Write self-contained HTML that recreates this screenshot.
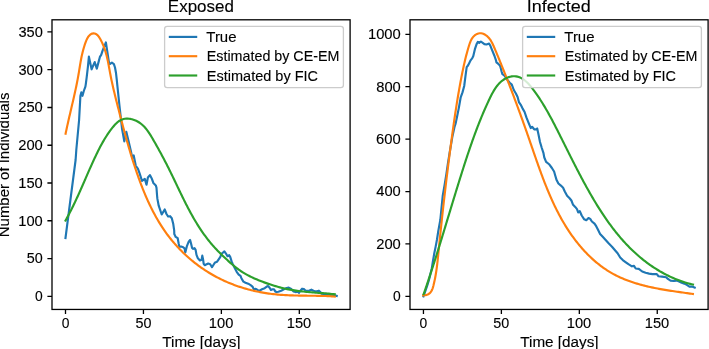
<!DOCTYPE html>
<html><head><meta charset="utf-8"><style>
html,body{margin:0;padding:0;background:#fff;}
svg{display:block;font-family:"Liberation Sans", sans-serif;}
svg{will-change:transform;}
text{stroke:#000;stroke-width:0.12px;}
</style></head><body>
<svg width="709" height="349" viewBox="0 0 709 349">
<rect width="709" height="349" fill="#fff"/>
<clipPath id="c52"><rect x="52.00" y="19.80" width="298.10" height="289.65"/></clipPath>
<g clip-path="url(#c52)" fill="none" stroke-width="2.15" stroke-linejoin="round" stroke-linecap="square">
<path stroke="#1f77b4" d="M65.50 238.00L70.40 200.00L75.60 160.00L76.30 150.00L79.10 120.00L80.40 96.00L81.30 92.40L82.50 95.80L83.80 91.00L85.40 86.70L85.80 84.10L86.70 77.20L87.90 66.90L88.90 56.60L91.60 69.30L94.70 62.10L96.80 68.60L98.80 61.10L99.90 56.90L101.20 54.90L102.60 50.70L105.90 42.40L107.80 54.90L108.80 61.70L109.80 64.10L111.90 62.70L113.90 64.10L115.00 67.50L116.00 73.00L116.70 79.20L117.40 86.00L119.50 106.00L122.00 128.50L124.30 141.40L126.30 131.80L128.70 141.70L130.80 150.70L132.30 158.00L133.70 155.50L135.80 165.80L137.90 168.60L139.60 173.40L142.00 180.90L144.80 178.90L146.50 184.70L147.90 177.50L149.90 175.10L151.60 178.20L153.40 183.00L155.80 185.40L156.50 187.80L157.10 196.00L157.40 198.90L158.70 205.70L161.70 214.50L164.70 209.50L166.50 214.00L168.10 216.50L170.10 216.20L171.80 218.20L173.20 223.70L174.20 230.60L174.30 234.10L175.70 236.90L177.70 238.20L178.70 243.70L179.40 246.80L181.20 246.50L183.20 247.20L184.60 248.60L185.30 252.50L187.00 245.80L188.70 241.70L190.10 240.00L191.10 243.70L192.10 247.90L193.20 248.90L194.60 248.20L195.60 249.90L196.50 254.90L197.90 258.30L199.90 260.40L201.60 259.70L202.30 255.60L203.00 259.00L203.70 263.80L204.70 265.20L206.10 264.50L208.20 263.50L210.20 264.20L212.00 267.20L213.70 264.50L215.10 262.40L217.10 261.70L218.50 259.70L220.20 257.20L221.60 253.80L224.40 251.40L226.10 253.80L227.50 256.20L229.20 255.20L230.20 256.90L231.60 261.40L232.60 263.60L234.60 267.70L236.70 271.80L238.70 274.60L240.50 275.90L241.40 278.20L243.40 281.60L245.50 282.70L248.20 283.70L251.00 285.40L252.70 286.80L253.70 289.20L255.80 288.80L257.90 290.20L259.60 290.60L262.00 289.20L264.70 288.20L267.10 286.40L268.20 286.10L269.60 287.80L270.90 289.90L272.60 289.20L274.00 289.20L275.40 291.60L276.80 292.00L278.40 291.70L281.20 290.70L283.90 289.30L286.70 288.00L288.70 287.60L291.20 289.00L293.60 291.40L295.60 292.10L297.70 291.70L299.10 292.80L300.40 290.70L302.10 288.70L303.90 289.00L305.60 290.70L307.30 290.70L309.40 290.50L311.40 289.70L313.50 290.70L314.50 291.00L316.90 291.30L318.90 290.70L320.30 292.00L321.70 293.70L327.20 294.40L332.70 295.10L336.70 295.90"/>
<path stroke="#ff7f0e" d="M65.59 133.77L65.88 132.33L66.18 130.90L66.49 129.45L66.80 128.01L67.11 126.56L67.43 125.11L67.76 123.66L68.08 122.20L68.41 120.75L68.75 119.29L69.08 117.83L69.42 116.36L69.76 114.90L70.11 113.43L70.45 111.96L70.79 110.49L71.14 109.02L71.48 107.55L71.83 106.08L72.17 104.61L72.51 103.13L72.85 101.66L73.19 100.18L73.53 98.71L73.87 97.23L74.20 95.76L74.53 94.29L74.86 92.81L75.18 91.34L75.50 89.87L75.81 88.39L76.12 86.92L76.43 85.45L76.73 83.99L77.02 82.52L77.31 81.06L77.59 79.59L77.86 78.13L78.13 76.67L78.38 75.21L78.64 73.76L78.88 72.31L79.12 70.86L79.35 69.41L79.59 67.96L79.82 66.51L80.06 65.06L80.30 63.61L80.55 62.16L80.81 60.71L81.08 59.25L81.36 57.79L81.66 56.33L81.98 54.87L82.31 53.40L82.67 51.92L83.05 50.44L83.46 48.96L83.90 47.46L84.36 45.97L84.86 44.46L85.39 42.95L85.96 41.42L86.57 39.91L87.25 38.46L88.02 37.11L88.90 35.90L89.90 34.88L91.04 34.09L92.27 33.57L93.51 33.35L94.70 33.47L95.82 33.90L96.86 34.61L97.84 35.55L98.75 36.67L99.60 37.93L100.40 39.29L101.15 40.70L101.85 42.12L102.50 43.54L103.12 44.97L103.69 46.41L104.23 47.84L104.73 49.28L105.21 50.73L105.65 52.17L106.06 53.62L106.45 55.07L106.82 56.52L107.16 57.98L107.49 59.44L107.80 60.89L108.10 62.35L108.39 63.81L108.67 65.28L108.94 66.74L109.21 68.20L109.47 69.67L109.74 71.13L110.01 72.60L110.29 74.06L110.57 75.53L110.86 76.99L111.16 78.45L111.47 79.92L111.78 81.38L112.09 82.84L112.41 84.31L112.74 85.77L113.07 87.23L113.41 88.69L113.75 90.15L114.10 91.61L114.45 93.07L114.80 94.53L115.16 95.99L115.52 97.45L115.88 98.91L116.24 100.37L116.61 101.83L116.98 103.28L117.35 104.74L117.72 106.20L118.10 107.65L118.47 109.11L118.85 110.56L119.22 112.01L119.60 113.47L119.97 114.92L120.35 116.37L120.73 117.82L121.11 119.27L121.49 120.72L121.87 122.17L122.25 123.62L122.63 125.07L123.02 126.51L123.40 127.96L123.79 129.40L124.18 130.85L124.57 132.29L124.96 133.74L125.36 135.18L125.76 136.62L126.16 138.06L126.56 139.50L126.96 140.94L127.37 142.38L127.78 143.81L128.19 145.25L128.61 146.69L129.03 148.12L129.45 149.56L129.87 150.99L130.30 152.42L130.73 153.85L131.17 155.28L131.61 156.71L132.05 158.14L132.49 159.57L132.94 160.99L133.40 162.42L133.86 163.85L134.32 165.27L134.79 166.69L135.26 168.11L135.73 169.53L136.22 170.95L136.70 172.37L137.19 173.79L137.69 175.21L138.19 176.62L138.69 178.04L139.21 179.45L139.72 180.86L140.25 182.27L140.78 183.68L141.31 185.08L141.85 186.48L142.40 187.88L142.96 189.28L143.52 190.68L144.08 192.07L144.66 193.46L145.24 194.84L145.83 196.22L146.43 197.60L147.04 198.97L147.65 200.34L148.27 201.71L148.90 203.07L149.54 204.43L150.19 205.78L150.85 207.13L151.51 208.47L152.18 209.81L152.87 211.14L153.56 212.47L154.26 213.79L154.97 215.11L155.70 216.42L156.43 217.72L157.17 219.02L157.92 220.31L158.69 221.59L159.46 222.87L160.25 224.14L161.04 225.41L161.85 226.66L162.67 227.91L163.50 229.15L164.34 230.39L165.20 231.61L166.06 232.83L166.94 234.04L167.83 235.24L168.73 236.43L169.65 237.61L170.58 238.79L171.52 239.95L172.47 241.11L173.44 242.26L174.42 243.39L175.40 244.52L176.40 245.64L177.42 246.75L178.44 247.85L179.48 248.93L180.52 250.01L181.58 251.08L182.65 252.14L183.73 253.18L184.81 254.22L185.91 255.25L187.02 256.26L188.14 257.26L189.27 258.25L190.41 259.23L191.56 260.20L192.72 261.16L193.89 262.11L195.07 263.04L196.26 263.96L197.46 264.87L198.66 265.77L199.88 266.65L201.10 267.52L202.33 268.38L203.57 269.23L204.82 270.06L206.08 270.88L207.34 271.69L208.62 272.48L209.90 273.26L211.19 274.03L212.48 274.78L213.78 275.52L215.09 276.24L216.41 276.95L217.74 277.65L219.07 278.33L220.40 278.99L221.75 279.65L223.10 280.29L224.46 280.91L225.82 281.52L227.19 282.12L228.56 282.70L229.94 283.27L231.33 283.83L232.72 284.37L234.12 284.90L235.52 285.41L236.93 285.91L238.34 286.40L239.76 286.87L241.18 287.33L242.60 287.78L244.03 288.21L245.47 288.63L246.91 289.04L248.35 289.43L249.80 289.81L251.25 290.18L252.70 290.53L254.16 290.87L255.62 291.20L257.08 291.52L258.55 291.82L260.02 292.10L261.49 292.38L262.96 292.64L264.44 292.89L265.92 293.13L267.40 293.35L268.89 293.57L270.37 293.76L271.86 293.95L273.35 294.12L274.84 294.29L276.33 294.43L277.82 294.57L279.32 294.70L280.81 294.81L282.31 294.92L283.81 295.01L285.31 295.10L286.81 295.18L288.31 295.25L289.81 295.31L291.31 295.37L292.81 295.42L294.32 295.46L295.82 295.50L297.32 295.54L298.83 295.57L300.33 295.60L301.84 295.62L303.34 295.64L304.84 295.66L306.35 295.68L307.85 295.70L309.35 295.71L310.85 295.73L312.36 295.75L313.86 295.77L315.36 295.79L316.86 295.82L318.36 295.84L319.85 295.88L321.35 295.91L322.85 295.95L324.34 296.00L325.83 296.05L327.33 296.10L328.82 296.17L330.31 296.24L331.79 296.32L333.28 296.41L334.76 296.51"/>
<path stroke="#2ca02c" d="M65.53 220.48L66.26 219.18L66.98 217.88L67.70 216.57L68.40 215.26L69.10 213.94L69.80 212.62L70.48 211.29L71.16 209.96L71.83 208.62L72.50 207.28L73.15 205.94L73.81 204.59L74.46 203.24L75.10 201.88L75.74 200.53L76.37 199.17L77.00 197.80L77.63 196.44L78.25 195.07L78.87 193.70L79.48 192.33L80.09 190.96L80.70 189.59L81.31 188.21L81.92 186.84L82.52 185.46L83.12 184.08L83.72 182.70L84.33 181.33L84.93 179.95L85.53 178.57L86.13 177.19L86.73 175.81L87.33 174.44L87.93 173.06L88.53 171.69L89.14 170.32L89.74 168.94L90.35 167.58L90.96 166.21L91.58 164.84L92.19 163.48L92.81 162.12L93.43 160.76L94.06 159.41L94.69 158.05L95.33 156.71L95.97 155.36L96.61 154.02L97.26 152.68L97.92 151.35L98.58 150.02L99.25 148.69L99.94 147.37L100.63 146.06L101.33 144.75L102.05 143.44L102.78 142.14L103.53 140.84L104.29 139.55L105.07 138.26L105.87 136.98L106.68 135.71L107.52 134.44L108.38 133.17L109.26 131.92L110.16 130.66L111.09 129.42L112.05 128.18L113.03 126.95L114.04 125.74L115.09 124.58L116.17 123.47L117.28 122.44L118.44 121.51L119.64 120.69L120.89 120.00L122.19 119.45L123.52 119.04L124.89 118.77L126.29 118.63L127.71 118.61L129.13 118.71L130.57 118.93L132.00 119.25L133.42 119.67L134.82 120.19L136.20 120.80L137.54 121.49L138.85 122.26L140.10 123.11L141.30 124.01L142.45 124.99L143.54 126.01L144.58 127.09L145.58 128.21L146.53 129.38L147.45 130.58L148.33 131.82L149.18 133.08L150.01 134.36L150.82 135.66L151.61 136.97L152.39 138.29L153.15 139.61L153.91 140.93L154.67 142.25L155.42 143.57L156.16 144.88L156.90 146.20L157.64 147.51L158.37 148.82L159.09 150.14L159.81 151.45L160.53 152.76L161.24 154.07L161.94 155.39L162.65 156.70L163.34 158.02L164.04 159.33L164.72 160.65L165.41 161.97L166.09 163.29L166.77 164.61L167.44 165.94L168.11 167.27L168.78 168.60L169.44 169.93L170.10 171.27L170.76 172.61L171.42 173.95L172.07 175.29L172.72 176.64L173.37 177.99L174.02 179.34L174.67 180.69L175.31 182.04L175.96 183.39L176.61 184.75L177.25 186.10L177.90 187.45L178.55 188.81L179.20 190.16L179.85 191.52L180.50 192.87L181.16 194.22L181.81 195.57L182.47 196.92L183.13 198.27L183.80 199.62L184.47 200.96L185.14 202.30L185.82 203.64L186.50 204.98L187.19 206.32L187.88 207.65L188.58 208.98L189.28 210.30L189.99 211.62L190.70 212.94L191.43 214.25L192.15 215.56L192.89 216.86L193.63 218.16L194.38 219.46L195.14 220.75L195.91 222.03L196.69 223.31L197.47 224.58L198.27 225.85L199.07 227.11L199.89 228.36L200.71 229.61L201.54 230.85L202.39 232.08L203.25 233.30L204.11 234.52L204.99 235.73L205.89 236.93L206.79 238.13L207.71 239.31L208.64 240.49L209.58 241.65L210.53 242.81L211.50 243.96L212.49 245.10L213.49 246.23L214.50 247.35L215.52 248.46L216.55 249.56L217.60 250.65L218.65 251.73L219.71 252.81L220.78 253.87L221.86 254.93L222.94 255.98L224.03 257.02L225.13 258.05L226.23 259.07L227.33 260.08L228.44 261.09L229.55 262.09L230.66 263.08L231.78 264.05L232.90 265.02L234.03 265.97L235.18 266.90L236.34 267.82L237.51 268.71L238.71 269.59L239.92 270.44L241.15 271.27L242.40 272.07L243.67 272.85L244.96 273.62L246.26 274.36L247.58 275.08L248.91 275.78L250.25 276.46L251.60 277.12L252.97 277.77L254.35 278.40L255.73 279.01L257.12 279.61L258.52 280.19L259.93 280.75L261.34 281.30L262.76 281.84L264.18 282.37L265.60 282.88L267.02 283.38L268.44 283.87L269.86 284.35L271.29 284.82L272.71 285.28L274.14 285.72L275.56 286.15L276.99 286.57L278.42 286.98L279.85 287.37L281.29 287.74L282.73 288.11L284.18 288.45L285.62 288.78L287.08 289.09L288.54 289.39L290.00 289.67L291.47 289.93L292.94 290.18L294.42 290.41L295.90 290.63L297.39 290.84L298.88 291.03L300.37 291.21L301.87 291.38L303.37 291.54L304.87 291.70L306.37 291.84L307.87 291.98L309.37 292.11L310.88 292.24L312.38 292.37L313.89 292.49L315.39 292.60L316.90 292.72L318.40 292.83L319.90 292.95L321.40 293.06L322.90 293.18L324.39 293.30L325.88 293.43L327.37 293.55L328.86 293.69L330.34 293.83L331.81 293.97L333.29 294.13L334.75 294.29"/>
</g>
<rect x="52.00" y="19.80" width="298.10" height="289.65" fill="none" stroke="#000" stroke-width="1.30"/>
<path d="M65.50 309.45V314.05M143.44 309.45V314.05M221.37 309.45V314.05M299.31 309.45V314.05M52.00 296.30H47.40M52.00 258.54H47.40M52.00 220.77H47.40M52.00 183.00H47.40M52.00 145.24H47.40M52.00 107.48H47.40M52.00 69.71H47.40M52.00 31.94H47.40" stroke="#000" stroke-width="1.30" fill="none"/>
<text x="61.65" y="328.40" font-size="14.00" textLength="7.71" lengthAdjust="spacingAndGlyphs">0</text>
<text x="135.44" y="328.40" font-size="14.00" textLength="15.98" lengthAdjust="spacingAndGlyphs">50</text>
<text x="208.86" y="328.40" font-size="14.00" textLength="24.47" lengthAdjust="spacingAndGlyphs">100</text>
<text x="286.80" y="328.40" font-size="14.00" textLength="24.47" lengthAdjust="spacingAndGlyphs">150</text>
<text x="35.03" y="301.10" font-size="14.00" textLength="7.71" lengthAdjust="spacingAndGlyphs">0</text>
<text x="26.78" y="263.34" font-size="14.00" textLength="15.98" lengthAdjust="spacingAndGlyphs">50</text>
<text x="18.30" y="225.57" font-size="14.00" textLength="24.47" lengthAdjust="spacingAndGlyphs">100</text>
<text x="18.30" y="187.81" font-size="14.00" textLength="24.47" lengthAdjust="spacingAndGlyphs">150</text>
<text x="18.20" y="150.04" font-size="14.00" textLength="24.58" lengthAdjust="spacingAndGlyphs">200</text>
<text x="18.20" y="112.28" font-size="14.00" textLength="24.58" lengthAdjust="spacingAndGlyphs">250</text>
<text x="18.42" y="74.51" font-size="14.00" textLength="24.35" lengthAdjust="spacingAndGlyphs">300</text>
<text x="18.42" y="36.74" font-size="14.00" textLength="24.35" lengthAdjust="spacingAndGlyphs">350</text>
<text x="162.22" y="346.50" font-size="14.00" textLength="78.40" lengthAdjust="spacingAndGlyphs">Time [days]</text>
<text x="167.88" y="11.95" font-size="16.70" textLength="66.05" lengthAdjust="spacingAndGlyphs">Exposed</text>
<rect x="164.60" y="26.30" width="178.80" height="61.30" rx="2.6" fill="#fff" fill-opacity="0.8" stroke="#ccc" stroke-width="1.30"/>
<path d="M169.86 36.90H196.16" stroke="#1f77b4" stroke-width="2.15" stroke-linecap="square"/>
<text x="206.33" y="42.10" font-size="14.00" textLength="30.18" lengthAdjust="spacingAndGlyphs">True</text>
<path d="M169.86 56.20H196.16" stroke="#ff7f0e" stroke-width="2.15" stroke-linecap="square"/>
<text x="206.82" y="61.40" font-size="14.00" textLength="132.58" lengthAdjust="spacingAndGlyphs">Estimated by CE-EM</text>
<path d="M169.86 75.50H196.16" stroke="#2ca02c" stroke-width="2.15" stroke-linecap="square"/>
<text x="206.80" y="80.70" font-size="14.00" textLength="111.28" lengthAdjust="spacingAndGlyphs">Estimated by FIC</text>
<clipPath id="c410"><rect x="410.00" y="19.80" width="298.10" height="289.65"/></clipPath>
<g clip-path="url(#c410)" fill="none" stroke-width="2.15" stroke-linejoin="round" stroke-linecap="square">
<path stroke="#1f77b4" d="M423.45 296.30L425.50 290.60L427.20 285.60L428.80 280.50L430.30 274.50L431.80 268.20L432.80 262.00L434.20 253.80L435.60 246.90L436.90 240.00L438.30 231.00L440.30 220.00L441.50 208.00L442.70 196.00L444.60 185.00L446.40 174.00L448.00 163.00L450.10 150.00L452.30 137.00L454.50 127.00L455.50 124.00L457.20 116.00L458.80 108.10L460.70 97.30L462.50 92.40L464.20 86.00L465.50 75.80L466.70 67.20L468.00 65.50L469.30 62.90L470.60 60.30L472.30 58.10L473.30 56.00L474.90 49.20L476.60 44.10L477.90 41.90L479.20 42.80L480.90 41.50L482.70 42.80L484.40 44.10L486.50 44.50L489.10 43.60L490.40 45.80L492.10 50.10L494.50 56.00L496.00 60.30L496.40 62.40L498.10 63.70L499.90 65.50L500.70 68.00L501.60 71.50L502.40 74.10L504.20 75.30L505.90 77.50L507.60 80.10L509.70 82.70L511.80 84.60L513.80 90.00L515.90 93.50L517.60 96.90L518.90 102.10L520.60 104.60L522.40 108.10L524.60 112.00L526.50 117.70L528.60 122.90L530.80 128.10L532.10 126.80L534.20 129.30L536.40 129.30L537.20 128.50L538.40 134.10L540.00 142.00L541.80 148.00L543.50 153.20L544.30 157.50L546.10 161.80L548.20 163.50L549.60 164.80L551.90 168.00L554.10 171.50L555.30 175.80L556.60 180.10L558.40 183.50L560.90 185.60L563.10 187.80L564.80 191.50L567.10 195.70L569.60 198.30L571.40 200.50L573.10 204.80L575.20 206.90L577.00 209.10L578.20 212.50L579.80 211.20L581.70 215.50L584.20 219.30L586.30 220.20L588.50 218.00L590.20 218.90L591.90 221.50L594.50 223.60L596.20 226.20L597.90 229.60L600.10 233.90L602.50 236.50L605.20 239.50L608.60 243.30L612.00 246.70L615.00 250.20L617.60 253.20L620.20 257.50L622.80 260.10L625.50 262.10L628.40 264.20L631.90 266.30L634.00 265.90L635.70 268.50L638.80 268.90L642.20 271.50L645.60 272.80L649.10 273.60L652.50 274.10L656.80 274.10L658.50 276.20L662.00 276.60L666.20 277.20L667.90 278.90L670.50 280.60L673.90 281.00L676.50 280.60L679.10 281.50L681.70 282.80L684.30 283.60L686.80 284.90L689.40 286.60L692.00 286.60L694.70 287.70"/>
<path stroke="#ff7f0e" d="M423.18 295.30L425.16 295.19L426.85 294.83L428.28 294.24L429.47 293.44L430.45 292.47L431.26 291.36L431.93 290.12L432.47 288.80L432.93 287.40L433.33 285.96L433.69 284.51L434.04 283.06L434.37 281.60L434.68 280.13L434.98 278.67L435.26 277.20L435.53 275.73L435.78 274.25L436.03 272.77L436.25 271.29L436.47 269.81L436.68 268.32L436.88 266.84L437.07 265.35L437.25 263.86L437.42 262.37L437.59 260.87L437.75 259.38L437.91 257.89L438.06 256.39L438.22 254.90L438.36 253.40L438.51 251.91L438.66 250.41L438.81 248.91L438.96 247.42L439.11 245.93L439.26 244.43L439.41 242.94L439.56 241.45L439.71 239.95L439.87 238.46L440.02 236.97L440.17 235.48L440.33 233.99L440.48 232.49L440.64 231.00L440.80 229.51L440.95 228.02L441.11 226.53L441.27 225.04L441.43 223.55L441.59 222.06L441.75 220.57L441.91 219.09L442.07 217.60L442.23 216.11L442.40 214.62L442.56 213.13L442.72 211.65L442.89 210.16L443.06 208.67L443.22 207.18L443.39 205.70L443.56 204.21L443.72 202.72L443.89 201.24L444.06 199.75L444.23 198.26L444.40 196.78L444.58 195.29L444.75 193.80L444.92 192.32L445.10 190.83L445.27 189.35L445.45 187.86L445.62 186.38L445.80 184.89L445.98 183.40L446.15 181.92L446.33 180.43L446.51 178.95L446.69 177.46L446.88 175.98L447.06 174.49L447.24 173.01L447.42 171.52L447.61 170.03L447.79 168.55L447.98 167.06L448.17 165.58L448.35 164.09L448.54 162.61L448.73 161.12L448.92 159.63L449.11 158.15L449.30 156.66L449.49 155.18L449.69 153.69L449.88 152.20L450.08 150.72L450.27 149.23L450.47 147.74L450.66 146.25L450.86 144.77L451.06 143.28L451.26 141.79L451.46 140.30L451.66 138.82L451.86 137.33L452.07 135.84L452.27 134.35L452.47 132.86L452.68 131.37L452.89 129.89L453.10 128.40L453.30 126.91L453.51 125.42L453.73 123.93L453.94 122.44L454.15 120.95L454.37 119.47L454.59 117.98L454.81 116.49L455.03 115.01L455.25 113.52L455.47 112.03L455.70 110.55L455.93 109.07L456.16 107.58L456.39 106.10L456.62 104.62L456.86 103.14L457.10 101.66L457.34 100.18L457.58 98.70L457.82 97.22L458.07 95.75L458.32 94.27L458.57 92.80L458.83 91.32L459.08 89.85L459.34 88.38L459.61 86.91L459.87 85.45L460.14 83.98L460.41 82.52L460.68 81.05L460.96 79.59L461.24 78.13L461.52 76.67L461.81 75.22L462.10 73.76L462.39 72.31L462.69 70.86L462.99 69.41L463.30 67.96L463.61 66.51L463.93 65.07L464.25 63.62L464.58 62.17L464.92 60.71L465.27 59.26L465.63 57.80L466.00 56.34L466.38 54.88L466.77 53.41L467.17 51.94L467.58 50.47L468.01 48.99L468.45 47.50L468.90 46.01L469.37 44.51L469.87 43.03L470.43 41.57L471.05 40.16L471.77 38.82L472.61 37.57L473.57 36.43L474.64 35.42L475.82 34.58L477.06 33.91L478.37 33.45L479.72 33.23L481.09 33.26L482.47 33.54L483.81 34.04L485.10 34.71L486.31 35.52L487.42 36.44L488.44 37.44L489.37 38.54L490.23 39.70L491.02 40.93L491.76 42.22L492.45 43.55L493.10 44.92L493.73 46.31L494.33 47.72L494.93 49.13L495.52 50.55L496.11 51.96L496.70 53.37L497.28 54.79L497.86 56.20L498.44 57.60L499.02 59.01L499.60 60.42L500.17 61.82L500.74 63.23L501.31 64.63L501.87 66.03L502.44 67.44L503.00 68.84L503.56 70.24L504.12 71.64L504.68 73.03L505.23 74.43L505.78 75.83L506.33 77.23L506.88 78.62L507.43 80.02L507.97 81.41L508.52 82.81L509.06 84.20L509.60 85.60L510.14 86.99L510.67 88.38L511.21 89.78L511.74 91.17L512.27 92.56L512.80 93.96L513.33 95.35L513.85 96.74L514.38 98.14L514.90 99.53L515.42 100.92L515.94 102.32L516.46 103.71L516.98 105.11L517.49 106.50L518.01 107.90L518.52 109.29L519.03 110.69L519.54 112.09L520.05 113.48L520.56 114.88L521.07 116.28L521.57 117.68L522.08 119.08L522.58 120.48L523.08 121.88L523.58 123.28L524.08 124.69L524.58 126.09L525.08 127.50L525.58 128.90L526.07 130.31L526.57 131.72L527.06 133.13L527.56 134.54L528.05 135.95L528.54 137.37L529.03 138.78L529.52 140.20L530.01 141.62L530.50 143.04L530.99 144.46L531.48 145.88L531.97 147.30L532.46 148.72L532.95 150.14L533.44 151.57L533.93 152.99L534.42 154.42L534.91 155.84L535.41 157.27L535.90 158.69L536.40 160.11L536.90 161.54L537.40 162.96L537.90 164.38L538.41 165.81L538.91 167.23L539.42 168.65L539.94 170.07L540.45 171.48L540.97 172.90L541.50 174.31L542.02 175.73L542.55 177.14L543.08 178.55L543.62 179.96L544.16 181.36L544.71 182.77L545.26 184.17L545.82 185.57L546.38 186.96L546.94 188.36L547.51 189.75L548.09 191.14L548.67 192.52L549.26 193.91L549.85 195.28L550.45 196.66L551.05 198.03L551.67 199.40L552.28 200.77L552.91 202.13L553.54 203.48L554.18 204.84L554.82 206.19L555.48 207.53L556.14 208.87L556.81 210.20L557.49 211.54L558.17 212.86L558.86 214.18L559.56 215.50L560.28 216.81L560.99 218.11L561.72 219.41L562.46 220.71L563.21 222.00L563.96 223.28L564.73 224.56L565.50 225.83L566.29 227.09L567.08 228.35L567.89 229.61L568.71 230.85L569.53 232.09L570.37 233.32L571.22 234.55L572.08 235.77L572.95 236.98L573.83 238.19L574.73 239.38L575.63 240.57L576.55 241.76L577.48 242.93L578.43 244.10L579.38 245.25L580.35 246.40L581.33 247.54L582.32 248.67L583.32 249.79L584.34 250.90L585.36 252.00L586.40 253.09L587.45 254.17L588.51 255.23L589.59 256.28L590.67 257.32L591.77 258.35L592.88 259.36L594.00 260.35L595.13 261.34L596.28 262.31L597.43 263.26L598.60 264.20L599.78 265.12L600.97 266.03L602.17 266.91L603.38 267.79L604.60 268.64L605.84 269.48L607.08 270.29L608.34 271.09L609.61 271.87L610.89 272.63L612.18 273.37L613.48 274.10L614.79 274.80L616.12 275.48L617.45 276.14L618.79 276.78L620.14 277.41L621.50 278.02L622.87 278.61L624.25 279.18L625.64 279.74L627.03 280.28L628.43 280.80L629.84 281.31L631.26 281.81L632.68 282.29L634.11 282.75L635.55 283.20L636.99 283.64L638.43 284.07L639.88 284.48L641.34 284.88L642.80 285.26L644.27 285.64L645.73 286.00L647.21 286.36L648.68 286.70L650.16 287.03L651.64 287.35L653.12 287.67L654.61 287.97L656.09 288.27L657.58 288.55L659.07 288.83L660.56 289.11L662.05 289.37L663.54 289.63L665.03 289.88L666.52 290.13L668.01 290.37L669.50 290.61L670.98 290.84L672.47 291.06L673.95 291.29L675.43 291.50L676.91 291.72L678.38 291.93L679.85 292.14L681.32 292.35L682.78 292.56L684.24 292.76L685.69 292.97L687.14 293.17L688.59 293.38L690.03 293.58L691.46 293.78L692.89 293.99"/>
<path stroke="#2ca02c" d="M423.63 294.21L424.12 292.81L424.61 291.40L425.09 290.00L425.57 288.59L426.06 287.18L426.53 285.77L427.01 284.36L427.49 282.95L427.96 281.53L428.43 280.12L428.90 278.70L429.37 277.29L429.84 275.87L430.31 274.45L430.77 273.04L431.23 271.62L431.70 270.20L432.16 268.78L432.61 267.36L433.07 265.93L433.53 264.51L433.98 263.09L434.44 261.66L434.89 260.24L435.34 258.81L435.79 257.39L436.24 255.96L436.69 254.53L437.14 253.11L437.58 251.68L438.03 250.25L438.47 248.82L438.92 247.39L439.36 245.96L439.80 244.53L440.25 243.10L440.69 241.67L441.13 240.24L441.57 238.81L442.01 237.37L442.44 235.94L442.88 234.51L443.32 233.08L443.76 231.64L444.19 230.21L444.63 228.78L445.07 227.34L445.50 225.91L445.94 224.48L446.37 223.04L446.81 221.61L447.24 220.18L447.68 218.74L448.11 217.31L448.55 215.87L448.98 214.44L449.42 213.01L449.85 211.57L450.29 210.14L450.72 208.71L451.16 207.27L451.59 205.84L452.03 204.41L452.46 202.97L452.90 201.54L453.33 200.11L453.77 198.68L454.21 197.25L454.65 195.82L455.08 194.38L455.52 192.95L455.96 191.52L456.40 190.09L456.84 188.66L457.28 187.24L457.73 185.81L458.17 184.38L458.61 182.95L459.06 181.53L459.50 180.10L459.95 178.67L460.39 177.25L460.84 175.82L461.29 174.40L461.74 172.98L462.19 171.55L462.64 170.13L463.09 168.71L463.55 167.29L464.00 165.87L464.46 164.45L464.92 163.04L465.38 161.62L465.84 160.20L466.30 158.79L466.77 157.37L467.24 155.96L467.70 154.54L468.18 153.13L468.65 151.72L469.13 150.31L469.60 148.90L470.09 147.49L470.57 146.08L471.06 144.67L471.55 143.27L472.04 141.86L472.54 140.46L473.04 139.05L473.55 137.65L474.05 136.25L474.57 134.84L475.08 133.44L475.60 132.04L476.13 130.64L476.65 129.25L477.19 127.85L477.72 126.45L478.27 125.05L478.81 123.66L479.37 122.27L479.92 120.87L480.48 119.48L481.05 118.09L481.63 116.70L482.20 115.31L482.79 113.92L483.38 112.53L483.97 111.14L484.58 109.76L485.18 108.37L485.80 106.99L486.42 105.60L487.05 104.22L487.68 102.84L488.32 101.46L488.97 100.08L489.62 98.70L490.29 97.32L490.96 95.95L491.65 94.60L492.36 93.25L493.10 91.93L493.85 90.63L494.64 89.36L495.45 88.12L496.30 86.91L497.19 85.75L498.12 84.62L499.09 83.54L500.11 82.52L501.18 81.54L502.30 80.63L503.48 79.78L504.72 78.99L506.02 78.28L507.38 77.64L508.78 77.10L510.22 76.68L511.67 76.38L513.12 76.23L514.57 76.22L516.00 76.35L517.40 76.62L518.75 77.00L520.07 77.51L521.34 78.11L522.57 78.82L523.77 79.62L524.94 80.51L526.07 81.46L527.17 82.49L528.24 83.57L529.28 84.70L530.30 85.88L531.30 87.08L532.27 88.32L533.22 89.57L534.16 90.83L535.08 92.10L535.98 93.36L536.87 94.63L537.75 95.90L538.61 97.17L539.45 98.45L540.29 99.72L541.11 101.00L541.92 102.28L542.71 103.56L543.50 104.84L544.28 106.13L545.04 107.41L545.80 108.70L546.54 109.99L547.28 111.28L548.01 112.57L548.73 113.87L549.45 115.17L550.16 116.46L550.86 117.76L551.56 119.07L552.25 120.37L552.94 121.67L553.62 122.98L554.30 124.29L554.97 125.60L555.65 126.91L556.32 128.23L556.99 129.54L557.66 130.86L558.33 132.18L559.00 133.50L559.66 134.82L560.33 136.15L560.99 137.47L561.66 138.80L562.33 140.12L562.99 141.45L563.66 142.78L564.32 144.11L564.99 145.44L565.65 146.77L566.32 148.11L566.99 149.44L567.65 150.77L568.32 152.11L568.99 153.44L569.66 154.78L570.33 156.11L571.00 157.45L571.68 158.78L572.35 160.12L573.03 161.45L573.71 162.78L574.39 164.12L575.07 165.45L575.75 166.78L576.44 168.12L577.12 169.45L577.81 170.78L578.50 172.11L579.20 173.44L579.90 174.77L580.60 176.09L581.30 177.42L582.00 178.74L582.71 180.07L583.42 181.39L584.14 182.71L584.85 184.03L585.57 185.34L586.30 186.66L587.03 187.97L587.76 189.28L588.49 190.59L589.23 191.90L589.98 193.21L590.72 194.51L591.48 195.81L592.23 197.11L592.99 198.40L593.76 199.70L594.53 200.99L595.30 202.27L596.08 203.56L596.87 204.84L597.65 206.11L598.45 207.38L599.25 208.65L600.06 209.92L600.87 211.18L601.68 212.44L602.51 213.69L603.34 214.93L604.17 216.18L605.01 217.42L605.86 218.65L606.71 219.88L607.57 221.10L608.44 222.31L609.31 223.53L610.19 224.73L611.08 225.93L611.97 227.12L612.88 228.31L613.78 229.49L614.70 230.67L615.62 231.83L616.56 232.99L617.50 234.15L618.44 235.29L619.40 236.43L620.36 237.57L621.33 238.69L622.31 239.81L623.30 240.92L624.30 242.02L625.30 243.11L626.32 244.19L627.34 245.27L628.37 246.34L629.41 247.40L630.46 248.45L631.52 249.49L632.59 250.52L633.67 251.54L634.76 252.55L635.86 253.55L636.97 254.55L638.09 255.53L639.22 256.50L640.35 257.47L641.50 258.42L642.66 259.36L643.83 260.29L645.02 261.21L646.21 262.12L647.41 263.02L648.62 263.90L649.84 264.78L651.08 265.64L652.32 266.49L653.57 267.32L654.83 268.15L656.10 268.95L657.37 269.75L658.66 270.53L659.95 271.30L661.26 272.05L662.57 272.78L663.88 273.51L665.21 274.21L666.54 274.90L667.88 275.57L669.23 276.23L670.58 276.87L671.95 277.49L673.31 278.10L674.68 278.68L676.06 279.25L677.45 279.80L678.84 280.34L680.23 280.85L681.63 281.34L683.04 281.82L684.45 282.27L685.87 282.70L687.28 283.12L688.71 283.51L690.14 283.88L691.57 284.23L693.00 284.56"/>
</g>
<rect x="410.00" y="19.80" width="298.10" height="289.65" fill="none" stroke="#000" stroke-width="1.30"/>
<path d="M423.45 309.45V314.05M501.38 309.45V314.05M579.32 309.45V314.05M657.25 309.45V314.05M410.00 296.35H405.40M410.00 243.94H405.40M410.00 191.53H405.40M410.00 139.12H405.40M410.00 86.71H405.40M410.00 34.30H405.40" stroke="#000" stroke-width="1.30" fill="none"/>
<text x="419.60" y="328.40" font-size="14.00" textLength="7.71" lengthAdjust="spacingAndGlyphs">0</text>
<text x="493.39" y="328.40" font-size="14.00" textLength="15.98" lengthAdjust="spacingAndGlyphs">50</text>
<text x="566.81" y="328.40" font-size="14.00" textLength="24.47" lengthAdjust="spacingAndGlyphs">100</text>
<text x="644.75" y="328.40" font-size="14.00" textLength="24.47" lengthAdjust="spacingAndGlyphs">150</text>
<text x="393.03" y="301.15" font-size="14.00" textLength="7.71" lengthAdjust="spacingAndGlyphs">0</text>
<text x="376.20" y="248.74" font-size="14.00" textLength="24.58" lengthAdjust="spacingAndGlyphs">200</text>
<text x="376.28" y="196.33" font-size="14.00" textLength="24.49" lengthAdjust="spacingAndGlyphs">400</text>
<text x="376.14" y="143.92" font-size="14.00" textLength="24.63" lengthAdjust="spacingAndGlyphs">600</text>
<text x="376.23" y="91.51" font-size="14.00" textLength="24.55" lengthAdjust="spacingAndGlyphs">800</text>
<text x="367.93" y="39.10" font-size="14.00" textLength="32.85" lengthAdjust="spacingAndGlyphs">1000</text>
<text x="520.22" y="346.50" font-size="14.00" textLength="78.40" lengthAdjust="spacingAndGlyphs">Time [days]</text>
<text x="526.81" y="11.95" font-size="16.70" textLength="63.98" lengthAdjust="spacingAndGlyphs">Infected</text>
<rect x="522.60" y="26.30" width="178.80" height="61.30" rx="2.6" fill="#fff" fill-opacity="0.8" stroke="#ccc" stroke-width="1.30"/>
<path d="M527.86 36.90H554.16" stroke="#1f77b4" stroke-width="2.15" stroke-linecap="square"/>
<text x="564.33" y="42.10" font-size="14.00" textLength="30.18" lengthAdjust="spacingAndGlyphs">True</text>
<path d="M527.86 56.20H554.16" stroke="#ff7f0e" stroke-width="2.15" stroke-linecap="square"/>
<text x="564.82" y="61.40" font-size="14.00" textLength="132.58" lengthAdjust="spacingAndGlyphs">Estimated by CE-EM</text>
<path d="M527.86 75.50H554.16" stroke="#2ca02c" stroke-width="2.15" stroke-linecap="square"/>
<text x="564.80" y="80.70" font-size="14.00" textLength="111.28" lengthAdjust="spacingAndGlyphs">Estimated by FIC</text>
<text transform="translate(8.9 164.6) rotate(-90)" x="-72.64" y="0.00" font-size="14.00" textLength="144.59" lengthAdjust="spacingAndGlyphs">Number of Individuals</text>
</svg>
</body></html>
